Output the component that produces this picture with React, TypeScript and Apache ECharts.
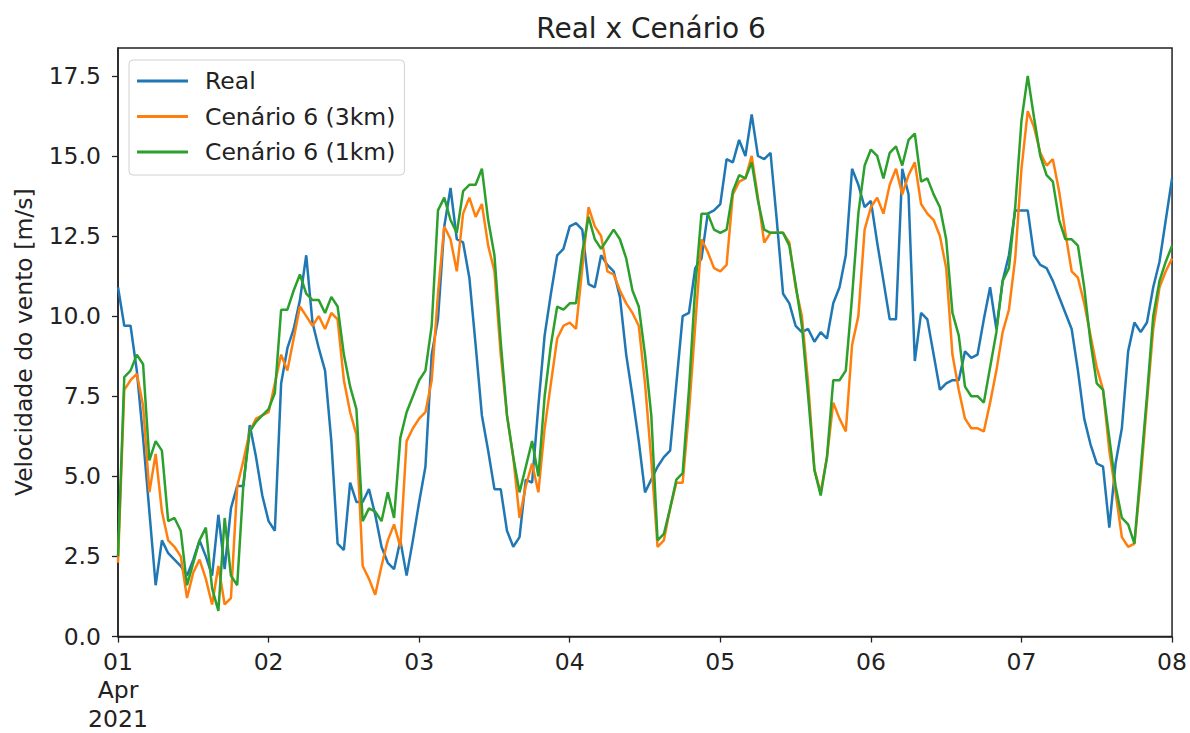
import React, { useEffect, useRef } from "react";
import * as echarts from "echarts";

const titleText = "Real x Cenário 6";
const yAxisName = "Velocidade do vento [m/s]";
const dayLabels = ["01\nApr\n2021", "02", "03", "04", "05", "06", "07", "08"];
const yTicks = [0, 2.5, 5, 7.5, 10, 12.5, 15, 17.5];
const seriesNames = ["Real", "Cenário 6 (3km)", "Cenário 6 (1km)"];
const seriesColors = ["#1f77b4", "#ff7f0e", "#2ca02c"];

// hourly values, 2021-04-01 00:00 .. 2021-04-08 00:00
const real = [
  10.9, 9.7, 9.7, 8.3, 6.2, 3.9, 1.6, 3.0, 2.6, 2.4, 2.2, 1.9, 2.4, 3.0, 2.5, 1.9, 3.8, 2.1, 4.0, 4.7, 4.7, 6.6, 5.6, 4.4,
  3.6, 3.3, 7.9, 9.0, 9.6, 10.5, 11.9, 9.8, 9.0, 8.3, 6.1, 2.9, 2.7, 4.8, 4.2, 4.2, 4.6, 3.8, 2.8, 2.3, 2.1, 3.0, 1.9, 3.0,
  4.2, 5.3, 8.8, 9.9, 12.8, 14.0, 12.4, 12.3, 11.2, 9.1, 6.9, 5.8, 4.6, 4.6, 3.3, 2.8, 3.1, 4.9, 4.8, 7.2, 9.4, 10.7, 11.9, 12.1,
  12.8, 12.9, 12.7, 11.0, 10.9, 11.9, 11.6, 11.4, 10.6, 8.8, 7.5, 6.1, 4.5, 4.9, 5.3, 5.6, 5.8, 7.9, 10.0, 10.1, 11.5, 11.8, 13.2, 13.3,
  13.5, 14.9, 14.8, 15.5, 15.0, 16.3, 15.0, 14.9, 15.1, 13.0, 10.7, 10.4, 9.7, 9.5, 9.6, 9.2, 9.5, 9.3, 10.4, 10.9, 11.9, 14.6, 14.1, 13.4,
  13.6, 12.3, 11.1, 9.9, 9.9, 14.6, 13.8, 8.6, 10.1, 9.9, 8.8, 7.7, 7.9, 8.0, 8.0, 8.9, 8.7, 8.8, 9.9, 10.9, 9.6, 11.1, 11.9, 13.3,
  13.3, 13.3, 11.9, 11.6, 11.5, 11.1, 10.6, 10.1, 9.6, 8.3, 6.8, 6.0, 5.4, 5.3, 3.4, 5.4, 6.5, 8.9, 9.8, 9.5, 9.8, 10.9, 11.7, 13.0,
  14.3,
];

const cen3km = [
  2.3, 7.7, 8.0, 8.2, 7.2, 4.5, 5.7, 3.9, 3.0, 2.8, 2.5, 1.2, 2.0, 2.4, 1.8, 1.0, 2.2, 1.0, 1.2, 4.7, 5.5, 6.4, 6.8, 6.9,
  7.0, 7.9, 8.8, 8.3, 9.3, 10.3, 10.0, 9.7, 10.0, 9.6, 10.1, 9.9, 8.0, 7.0, 6.3, 2.2, 1.8, 1.3, 2.2, 3.0, 3.5, 2.8, 6.1, 6.5,
  6.8, 7.0, 8.0, 10.7, 12.8, 12.4, 11.4, 13.2, 13.7, 13.1, 13.5, 12.2, 11.4, 8.8, 6.9, 5.6, 3.7, 4.7, 5.4, 4.5, 6.5, 7.9, 9.3, 9.7,
  9.8, 9.6, 11.5, 13.4, 12.8, 12.5, 11.4, 11.3, 10.8, 10.4, 10.1, 9.7, 7.9, 5.5, 2.8, 3.0, 4.0, 4.8, 4.8, 7.0, 9.7, 12.4, 12.0, 11.5,
  11.4, 11.6, 13.8, 14.2, 14.3, 15.0, 13.7, 12.3, 12.6, 12.6, 12.6, 12.3, 10.9, 10.0, 7.9, 5.2, 4.5, 5.6, 7.3, 6.8, 6.4, 9.1, 10.0, 12.7,
  13.4, 13.7, 13.2, 14.1, 14.6, 13.8, 14.4, 14.8, 13.5, 13.2, 13.0, 12.5, 11.5, 8.8, 7.7, 6.8, 6.5, 6.5, 6.4, 7.3, 8.3, 9.5, 10.2, 11.8,
  14.6, 16.4, 15.9, 15.1, 14.7, 14.9, 13.9, 12.6, 11.4, 11.2, 10.4, 9.4, 8.4, 7.7, 5.8, 4.5, 3.1, 2.8, 2.9, 4.9, 7.3, 9.6, 10.9, 11.4,
  11.8,
];

const cen1km = [
  2.5, 8.1, 8.3, 8.8, 8.5, 5.5, 6.1, 5.8, 3.6, 3.7, 3.3, 1.6, 2.3, 3.0, 3.4, 1.5, 0.8, 3.7, 1.9, 1.6, 4.8, 6.4, 6.7, 6.9,
  7.1, 7.6, 10.2, 10.2, 10.8, 11.3, 10.7, 10.5, 10.5, 10.1, 10.6, 10.3, 8.8, 7.8, 7.1, 3.6, 4.0, 3.9, 3.6, 4.5, 3.7, 6.2, 7.0, 7.5,
  8.0, 8.3, 9.7, 13.3, 13.7, 13.0, 12.6, 13.9, 14.1, 14.1, 14.6, 13.0, 11.9, 9.2, 6.9, 5.6, 4.5, 5.3, 6.1, 5.0, 7.5, 9.1, 10.3, 10.2,
  10.4, 10.4, 12.0, 13.1, 12.4, 12.1, 12.4, 12.7, 12.4, 11.8, 10.8, 10.3, 8.8, 6.9, 3.0, 3.2, 4.0, 4.9, 5.1, 7.7, 10.9, 13.2, 13.2, 12.7,
  12.6, 12.7, 13.9, 14.4, 14.3, 14.8, 13.6, 12.7, 12.6, 12.6, 12.6, 12.2, 11.0, 9.7, 7.5, 5.2, 4.4, 5.6, 8.0, 8.0, 8.3, 10.6, 13.2, 14.7,
  15.2, 15.0, 14.3, 15.1, 15.3, 14.7, 15.5, 15.7, 14.2, 14.3, 13.8, 13.4, 12.4, 10.1, 9.4, 7.8, 7.5, 7.5, 7.3, 8.4, 9.5, 11.1, 11.5, 13.4,
  16.1, 17.5, 16.2, 15.0, 14.4, 14.2, 13.0, 12.4, 12.4, 12.2, 10.9, 9.2, 7.9, 7.7, 6.2, 4.7, 3.7, 3.5, 2.9, 5.2, 7.5, 10.0, 11.1, 11.7,
  12.2,
];

const seriesValues = [real, cen3km, cen1km];

const FONT = "DejaVu Sans";
const TEXT = "#222";
const LABEL_SIZE = 23.5;

export default function App() {
  const ref = useRef<HTMLDivElement>(null);

  useEffect(() => {
    if (!ref.current) return;
    const chart = echarts.init(ref.current, undefined, { renderer: "svg" });
    const hoursPerDay = 24;
    const lastHour = (dayLabels.length - 1) * hoursPerDay;
    chart.setOption({
      animation: false,
      backgroundColor: "#fff",
      title: {
        text: titleText,
        left: 646,
        textAlign: "center",
        top: 9,
        textStyle: { fontFamily: FONT, fontSize: 28, fontWeight: "normal", color: TEXT, lineHeight: 28 },
      },
      grid: {
        left: 118,
        right: 14,
        top: 48,
        bottom: 92,
        show: true,
        borderColor: "#222",
        borderWidth: 1.5,
        backgroundColor: "transparent",
      },
      legend: {
        orient: "vertical",
        left: 129,
        top: 60,
        icon: "rect",
        itemWidth: 51,
        itemHeight: 3,
        itemGap: 11.5,
        padding: [9, 9, 11, 8],
        borderColor: "#d0d0d0",
        borderWidth: 1,
        borderRadius: 4,
        backgroundColor: "rgba(255,255,255,0.85)",
        data: seriesNames,
        textStyle: {
          fontFamily: FONT,
          fontSize: LABEL_SIZE,
          lineHeight: 24,
          color: TEXT,
          padding: [0, 0, 0, 12],
        },
      },
      xAxis: {
        type: "value",
        min: 0,
        max: lastHour,
        interval: hoursPerDay,
        splitLine: { show: false },
        axisLine: { show: true, onZero: false, lineStyle: { color: "#222", width: 1.5 } },
        axisTick: { show: true, length: 6, lineStyle: { color: "#222", width: 1.3 } },
        axisLabel: {
          fontFamily: FONT,
          fontSize: LABEL_SIZE,
          color: TEXT,
          margin: 11,
          lineHeight: 28.5,
          formatter: (v: number) => dayLabels[Math.round(v / hoursPerDay)] ?? "",
        },
      },
      yAxis: {
        type: "value",
        min: 0,
        max: 18.37,
        name: yAxisName,
        nameLocation: "middle",
        nameRotate: 90,
        nameGap: 82,
        nameTextStyle: { fontFamily: FONT, fontSize: LABEL_SIZE, color: TEXT },
        splitLine: { show: false },
        axisLine: { show: true, onZero: false, lineStyle: { color: "#222", width: 1.5 } },
        axisTick: { show: true, length: 6, customValues: yTicks, lineStyle: { color: "#222", width: 1.3 } },
        axisLabel: {
          fontFamily: FONT,
          fontSize: LABEL_SIZE,
          color: TEXT,
          margin: 17,
          customValues: yTicks,
          formatter: (v: number) => v.toFixed(1),
        },
      },
      series: seriesValues.map((vals, k) => ({
        name: seriesNames[k],
        type: "line",
        data: vals.map((v, i) => [i, v]),
        showSymbol: false,
        symbol: "none",
        z: 2 + k,
        lineStyle: { width: 2.5, color: seriesColors[k] },
        itemStyle: { color: seriesColors[k] },
      })),
    });
    return () => chart.dispose();
  }, []);

  return (
    <div
      ref={ref}
      style={{ position: "fixed", left: 0, top: 0, width: 1190, height: 733, background: "#fff" }}
    />
  );
}
